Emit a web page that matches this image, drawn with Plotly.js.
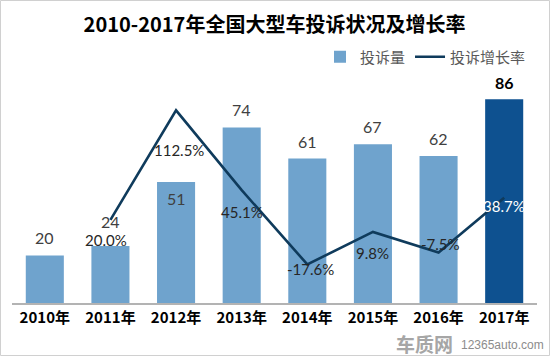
<!DOCTYPE html>
<html>
<head>
<meta charset="utf-8">
<script src="https://cdn.plot.ly/plotly-3.0.1.min.js"></script>
<style>
html,body{margin:0;padding:0;background:#fff;}
#chart{width:550px;height:356px;}
</style>
</head>
<body>
<div id="chart"></div>
<script>
// ---- data ----
const years = ["2010年","2011年","2012年","2013年","2014年","2015年","2016年","2017年"];
const complaints = [20, 24, 51, 74, 61, 67, 62, 86];
const growthRate = [null, 20.0, 112.5, 45.1, -17.6, 9.8, -7.5, 38.7];
const rateLabels = ["", "20.0%", "112.5%", "45.1%", "-17.6%", "9.8%", "-7.5%", "38.7%"];

// ---- label placement (style only) ----
const barLabelShift = [18, 25, -16, 18, 17, 18, 18, 17];
const rateLabelShift = [0, -20, -40, -22, -5, -21, 8, -8];
const rateLabelXShift = [0, -4, 3, 0, 3, 0, 2, 0];

const FONT = '"Noto Sans CJK SC", "Noto Sans", sans-serif';
const NUMFONT = 'Lato, "Noto Sans", sans-serif';
const lightBlue = '#6fa3cd';
const darkBlue = '#0e5190';
const lineColor = '#0f3b5c';

const barColors = years.map((_, i) => i === years.length - 1 ? darkBlue : lightBlue);

const traces = [
  {
    type: 'bar', name: '投诉量', x: years, y: complaints,
    marker: {color: barColors, line: {width: 0}},
    yaxis: 'y', hoverinfo: 'x+y'
  },
  {
    type: 'scatter', mode: 'lines', name: '投诉增长率',
    x: years.slice(1), y: growthRate.slice(1),
    line: {color: lineColor, width: 2.6},
    yaxis: 'y2'
  }
];

const annotations = [];
complaints.forEach((v, i) => {
  const last = i === complaints.length - 1;
  annotations.push({
    x: years[i], y: v, xref: 'x', yref: 'y', text: String(v),
    showarrow: false, yshift: barLabelShift[i], yanchor: 'middle', borderpad: 0,
    font: {family: NUMFONT, size: 16, color: last ? '#000000' : '#404040', weight: last ? 'bold' : 'normal'}
  });
});
growthRate.forEach((v, i) => {
  if (v === null) return;
  const last = i === growthRate.length - 1;
  annotations.push({
    x: years[i], y: v, xref: 'x', yref: 'y2', text: rateLabels[i],
    showarrow: false, yshift: rateLabelShift[i], xshift: rateLabelXShift[i], yanchor: 'middle', borderpad: 0,
    font: {family: NUMFONT, size: 15, color: last ? '#ffffff' : '#262626'}
  });
});
// watermark
annotations.push({
  xref: 'paper', yref: 'paper', x: (424 - 12) / 525, y: -(343 - 303) / 247,
  text: '<b>车质网</b>', showarrow: false, xanchor: 'center', yanchor: 'middle',
  font: {family: FONT, size: 19, color: '#a6a6a6'}
});
annotations.push({
  xref: 'paper', yref: 'paper', x: (459 - 12) / 525, y: -(345 - 303) / 247,
  text: '12365auto.com', showarrow: false, xanchor: 'left', yanchor: 'middle',
  font: {family: '"Liberation Sans", Arial, sans-serif', size: 12, color: '#8c8c8c'}
});

const layout = {
  width: 550, height: 356,
  margin: {l: 12, r: 13, t: 56, b: 53, pad: 0},
  paper_bgcolor: '#ffffff', plot_bgcolor: '#ffffff',
  title: {
    text: '<b>2010-2017年全国大型车投诉状况及增长率</b>',
    x: 0.5, xref: 'paper', y: 1 - 24.5 / 356, yref: 'container', yanchor: 'middle',
    font: {family: FONT, size: 20, color: '#000000'}
  },
  showlegend: true,
  legend: {
    orientation: 'h', x: (531 - 12) / 525, xanchor: 'right', y: (303 - 57) / 247, yanchor: 'middle',
    font: {family: FONT, size: 15, color: '#595959'}, bgcolor: 'rgba(0,0,0,0)',
    traceorder: 'normal', itemwidth: 30
  },
  bargap: 0.42,
  xaxis: {
    type: 'category', range: [-0.5, 7.5], fixedrange: true,
    showline: true, linecolor: '#b3b3b3', linewidth: 1.5,
    ticks: '', showgrid: false, zeroline: false,
    tickfont: {family: FONT, size: 15, color: '#000000', weight: 'bold'}
  },
  yaxis: {
    range: [0, 104.2], visible: false, showgrid: false, zeroline: false, fixedrange: true
  },
  yaxis2: {
    range: [-50.2, 158.4], overlaying: 'y', side: 'right', visible: false,
    showgrid: false, zeroline: false, fixedrange: true
  },
  annotations: annotations,
  shapes: [{
    type: 'rect', xref: 'paper', yref: 'paper',
    x0: -11.5 / 525, x1: 537.5 / 525, y0: -52.5 / 247, y1: 302.5 / 247,
    line: {color: '#d0d0d0', width: 1}, fillcolor: 'rgba(0,0,0,0)', layer: 'below'
  }]
};

Plotly.newPlot('chart', traces, layout, {displayModeBar: false, staticPlot: true});
</script>
</body>
</html>
